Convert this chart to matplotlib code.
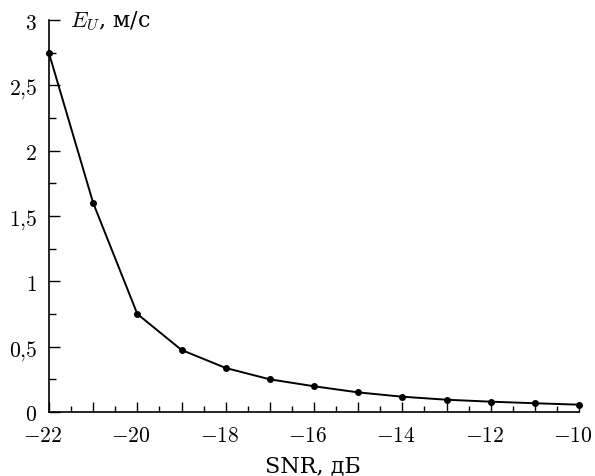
import matplotlib
matplotlib.use("Agg")
import matplotlib.pyplot as plt
import matplotlib.transforms as mtransforms
from matplotlib.ticker import MultipleLocator, FuncFormatter

snr = [-22, -21, -20, -19, -18, -17, -16, -15, -14, -13, -12, -11, -10]
eu = [2.745, 1.60, 0.75, 0.475, 0.337, 0.25, 0.197, 0.15, 0.117, 0.094, 0.079, 0.067, 0.056]

xlabels_every = 2
yticks = [0, 0.5, 1, 1.5, 2, 2.5, 3]

plt.rcParams['mathtext.fontset'] = 'cm'
plt.rcParams['font.family'] = ['DejaVu Serif']

fig = plt.figure(figsize=(5.95, 4.77), dpi=100)
ax = fig.add_axes([49/595, 1-413/477, (579-49)/595, (413-21)/477])
ax.plot(snr, eu, color='black', lw=1.4, marker='o', ms=4.0, clip_on=False, zorder=3)

ax.set_xlim(-22, -10)
ax.set_ylim(0, 3)
ax.spines['top'].set_visible(False)
ax.spines['right'].set_visible(False)
ax.spines['left'].set_linewidth(1.2)
ax.spines['bottom'].set_linewidth(1.2)

ax.xaxis.set_major_locator(MultipleLocator(1))
ax.xaxis.set_minor_locator(MultipleLocator(0.5))
ax.set_yticks(yticks)
ax.yaxis.set_minor_locator(MultipleLocator(0.25))

def xfmt(v, pos):
    iv = int(round(v))
    if iv % xlabels_every != 0:
        return ''
    return r'$-%d$' % abs(iv)
def yfmt(v, pos):
    s = ('%g' % v).replace('.', '{,}')
    return r'$%s$' % s
ax.xaxis.set_major_formatter(FuncFormatter(xfmt))
ax.yaxis.set_major_formatter(FuncFormatter(yfmt))

ax.tick_params(axis='both', which='both', direction='in', width=1.0, labelsize=15.5)
ax.tick_params(axis='x', which='major', length=7, pad=9)
ax.tick_params(axis='x', which='minor', length=4)
ax.tick_params(axis='y', which='major', length=8, pad=8.5)
ax.tick_params(axis='y', which='minor', length=4.7)

# shift x tick labels so the digits (not the minus sign) are centred on ticks
offset = mtransforms.ScaledTranslation(-6.5/100, 0, fig.dpi_scale_trans)
for lab in ax.get_xticklabels():
    lab.set_transform(lab.get_transform() + offset)

ax.text(0.04, 1.0, r'$E_U$' + ', м/с', transform=ax.transAxes, fontsize=16,
        ha='left', va='center')
fig.text(313/595, 1-466/477, 'SNR, дБ', fontsize=16, ha='center', va='center')

fig.savefig('out.png', dpi=100)
